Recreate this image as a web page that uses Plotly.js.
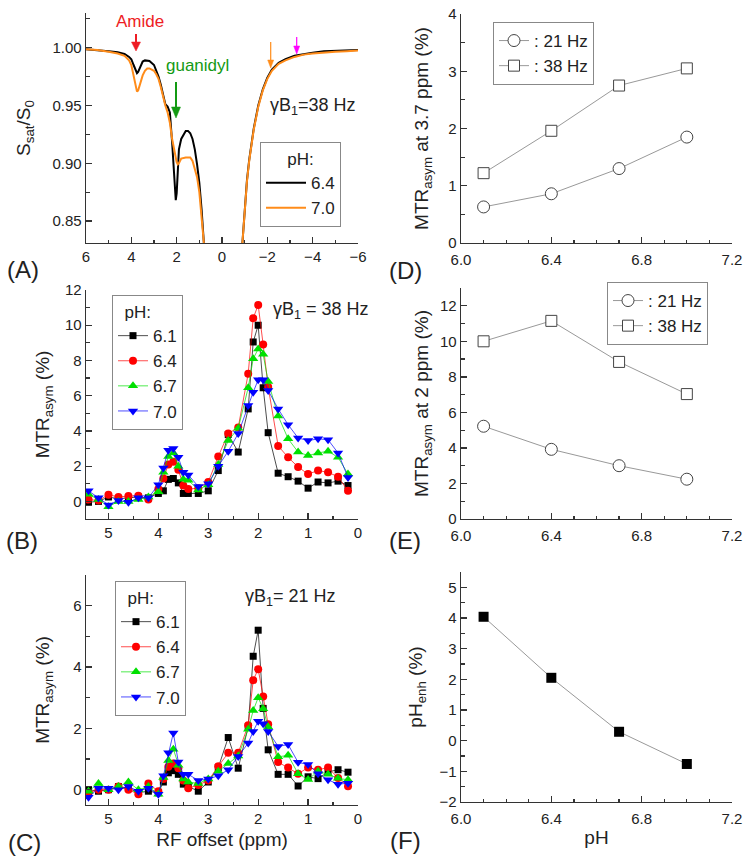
<!DOCTYPE html>
<html>
<head>
<meta charset="utf-8">
<script src="https://cdn.plot.ly/plotly-3.0.1.min.js"></script>
<style>html,body{margin:0;padding:0;background:#fff;}#chart{width:754px;height:864px;}</style>
</head>
<body>
<div id="chart"></div>
<script>
// ---------- Panel A: Z-spectra (S_sat/S_0) ----------
const offsetsA_64 = [6.0,5.5,5.0,4.6,4.3,4.1,4.0,3.9,3.8,3.75,3.7,3.6,3.5,3.4,3.2,3.0,2.9,2.8,2.7,2.6,2.5,2.4,2.3,2.2,2.1,2.04,2.0,1.95,1.9,1.8,1.7,1.6,1.5,1.4,1.3,1.2,1.1,1.0,0.9,0.8,null,
  -0.9,-1.0,-1.1,-1.2,-1.4,-1.6,-1.8,-2.0,-2.2,-2.5,-2.8,-3.2,-3.6,-4.0,-4.5,-5.0,-5.5,-6.0];
const ssat_64 = [0.9986,0.998,0.997,0.996,0.9945,0.992,0.990,0.985,0.980,0.978,0.979,0.984,0.988,0.989,0.9885,0.985,0.980,0.975,0.968,0.958,0.951,0.949,0.944,0.918,0.890,0.868,0.874,0.895,0.912,0.921,0.925,0.928,0.928,0.926,0.921,0.912,0.899,0.883,0.860,0.831,null,
  0.831,0.862,0.885,0.903,0.930,0.950,0.964,0.974,0.981,0.987,0.990,0.993,0.9945,0.9957,0.997,0.9975,0.998,0.998];
const offsetsA_70 = [6.0,5.5,5.0,4.6,4.3,4.1,4.0,3.9,3.8,3.75,3.7,3.6,3.5,3.4,3.3,3.2,3.0,2.9,2.8,2.7,2.6,2.5,2.4,2.3,2.2,2.1,2.0,1.95,1.9,1.8,1.6,1.4,1.3,1.2,1.1,1.0,0.9,0.8,null,
  -0.9,-1.0,-1.1,-1.2,-1.4,-1.6,-1.8,-2.0,-2.2,-2.5,-2.8,-3.2,-3.6,-4.0,-4.5,-5.0,-5.5,-6.0];
const ssat_70 = [0.9986,0.998,0.9965,0.995,0.993,0.989,0.985,0.976,0.966,0.962,0.963,0.970,0.976,0.980,0.982,0.982,0.980,0.977,0.973,0.966,0.957,0.950,0.944,0.935,0.921,0.910,0.901,0.899,0.900,0.904,0.905,0.905,0.902,0.895,0.888,0.875,0.855,0.831,null,
  0.831,0.861,0.884,0.902,0.929,0.949,0.963,0.973,0.980,0.986,0.989,0.992,0.994,0.995,0.996,0.9965,0.997,0.9975];

// ---------- Panels B & C: MTRasym spectra ----------
const offsetsBC = [5.4,5.2,5.0,4.8,4.6,4.4,4.2,4.0,3.9,3.8,3.7,3.6,3.5,3.4,3.2,3.0,2.8,2.6,2.4,2.2,2.1,2.0,1.9,1.8,1.6,1.4,1.2,1.0,0.8,0.6,0.4,0.2];
const mtrB_61 = [-0.05,0.0,0.25,0.15,0.2,0.25,0.2,0.45,0.6,1.25,1.3,1.05,0.45,0.45,0.45,0.6,1.75,3.8,2.8,5.25,9.05,10.0,6.45,3.9,1.6,1.4,1.15,0.75,1.1,1.05,1.15,0.9];
const mtrB_64 = [0.1,0.05,0.38,0.25,0.3,0.32,0.1,0.7,1.3,2.1,2.25,1.8,0.9,0.7,0.75,1.1,2.55,3.85,4.2,7.25,10.4,11.15,8.9,6.5,3.15,2.5,1.95,1.55,1.75,1.65,1.4,0.6];
const mtrB_67 = [0.4,0.1,-0.3,0.0,0.0,0.1,0.25,0.55,1.65,2.55,2.75,2.0,1.25,1.2,0.65,0.95,2.1,3.45,4.15,6.45,8.1,8.65,8.35,6.8,4.85,3.55,2.8,2.6,2.75,2.85,2.5,1.55];
const mtrB_70 = [0.6,0.2,-0.2,0.05,-0.05,0.2,0.2,0.95,1.9,2.9,3.0,2.5,1.65,1.5,0.85,1.0,2.0,2.85,3.85,5.45,6.2,6.9,6.9,6.3,5.25,4.35,3.6,3.45,3.55,3.5,2.75,1.35];
const mtrC_61 = [0.0,-0.05,0.0,0.1,0.05,-0.1,-0.05,-0.1,0.25,0.55,0.62,0.5,0.18,0.1,-0.05,0.25,0.72,1.7,0.7,2.05,4.35,5.2,2.65,1.3,0.5,0.5,0.12,0.42,0.36,0.58,0.65,0.57];
const mtrC_64 = [-0.1,0.0,0.0,0.1,0.0,-0.15,0.2,-0.05,0.35,0.75,0.85,0.7,0.3,0.05,0.15,0.3,0.76,1.2,1.2,2.1,3.57,3.93,3.04,2.13,0.9,0.72,0.52,0.72,0.65,0.72,0.38,0.11];
const mtrC_67 = [-0.05,0.2,0.0,0.1,0.25,0.0,0.1,-0.15,0.4,0.95,1.32,0.8,0.35,0.25,0.2,0.35,0.6,0.85,1.1,1.97,2.58,3.0,2.64,2.04,1.07,1.12,0.52,0.33,0.6,0.5,0.37,0.32];
const mtrC_70 = [-0.25,0.05,0.05,0.0,0.1,-0.05,0.05,-0.15,0.45,1.2,1.85,0.9,0.5,0.5,0.3,0.35,0.45,0.65,1.08,1.52,1.9,2.23,2.15,1.9,1.41,1.47,0.89,0.82,0.52,0.32,0.18,0.21];

// ---------- Panels D, E, F: vs pH ----------
const pHvals = [6.1,6.4,6.7,7.0];
const mtr37_21 = [0.63,0.86,1.30,1.85];
const mtr37_38 = [1.22,1.96,2.75,3.05];
const mtr2_21 = [5.22,3.92,3.00,2.24];
const mtr2_38 = [10.0,11.15,8.84,7.03];
const pHenh = [4.04,2.05,0.29,-0.76];

const pHlabels = ['6.1','6.4','6.7','7.0'];

// ---------- layout helpers ----------
const W = 754, H = 864;
const FONT = 'Liberation Sans, Arial, Helvetica, sans-serif';
const fx = p => p / W;
const fy = p => 1 - p / H;
const AX = '#333';

function axis(extra) {
  const base = {
    showline: true, linecolor: AX, linewidth: 1.4, mirror: false,
    ticks: 'inside', ticklen: 6, tickwidth: 1.3, tickcolor: AX,
    showgrid: false, zeroline: false, fixedrange: true,
    tickfont: {family: FONT, size: 15, color: '#222'}
  };
  return Object.assign(base, extra);
}
function minor(d) { return {ticks: 'inside', ticklen: 3.5, tickwidth: 1.2, tickcolor: AX, dtick: d, showgrid: false}; }
function ytitle(t, s) { return {text: t, font: {family: FONT, size: 19, color: '#222'}, standoff: s}; }

const colsBC = ['#000000', '#ff0000', '#00e000', '#0000ff'];
const symsBC = ['square', 'circle', 'triangle-up', 'triangle-down'];
const sizesBC = [7, 8, 9, 9];

const traces = [];
// A
traces.push({x: offsetsA_64, y: ssat_64, xaxis: 'x', yaxis: 'y', mode: 'lines', name: '6.4',
  line: {color: '#000', width: 2}, legend: 'legend', connectgaps: false});
traces.push({x: offsetsA_70, y: ssat_70, xaxis: 'x', yaxis: 'y', mode: 'lines', name: '7.0',
  line: {color: '#ff8c1a', width: 2}, legend: 'legend', connectgaps: false});
// B
[mtrB_61, mtrB_64, mtrB_67, mtrB_70].forEach((arr, i) => {
  traces.push({x: offsetsBC, y: arr, xaxis: 'x2', yaxis: 'y2', mode: 'lines+markers', name: pHlabels[i],
    line: {color: colsBC[i], width: 0.7},
    marker: {symbol: symsBC[i], size: sizesBC[i], color: colsBC[i]}, legend: 'legend2'});
});
// C
[mtrC_61, mtrC_64, mtrC_67, mtrC_70].forEach((arr, i) => {
  traces.push({x: offsetsBC, y: arr, xaxis: 'x3', yaxis: 'y3', mode: 'lines+markers', name: pHlabels[i],
    line: {color: colsBC[i], width: 0.7},
    marker: {symbol: symsBC[i], size: sizesBC[i], color: colsBC[i]}, legend: 'legend3'});
});
// D
traces.push({x: pHvals, y: mtr37_21, xaxis: 'x4', yaxis: 'y4', mode: 'lines+markers', name: ': 21 Hz',
  line: {color: '#999', width: 1}, marker: {symbol: 'circle', size: 12, color: '#fff', line: {color: '#444', width: 1}}, legend: 'legend4'});
traces.push({x: pHvals, y: mtr37_38, xaxis: 'x4', yaxis: 'y4', mode: 'lines+markers', name: ': 38 Hz',
  line: {color: '#999', width: 1}, marker: {symbol: 'square', size: 11, color: '#fff', line: {color: '#444', width: 1}}, legend: 'legend4'});
// E
traces.push({x: pHvals, y: mtr2_21, xaxis: 'x5', yaxis: 'y5', mode: 'lines+markers', name: ': 21 Hz',
  line: {color: '#999', width: 1}, marker: {symbol: 'circle', size: 12, color: '#fff', line: {color: '#444', width: 1}}, legend: 'legend5'});
traces.push({x: pHvals, y: mtr2_38, xaxis: 'x5', yaxis: 'y5', mode: 'lines+markers', name: ': 38 Hz',
  line: {color: '#999', width: 1}, marker: {symbol: 'square', size: 11, color: '#fff', line: {color: '#444', width: 1}}, legend: 'legend5'});
// F
traces.push({x: pHvals, y: pHenh, xaxis: 'x6', yaxis: 'y6', mode: 'lines+markers', name: 'pHenh',
  line: {color: '#999', width: 1}, marker: {symbol: 'square', size: 10, color: '#000'}, showlegend: false});

const leftDom = [fx(86), fx(358)];
const rightDom = [fx(461), fx(732)];

function legendCfg(x, y, extra) {
  return Object.assign({
    x: fx(x), y: fy(y), xref: 'paper', yref: 'paper', xanchor: 'left', yanchor: 'top',
    bgcolor: 'rgba(255,255,255,0)', bordercolor: '#888', borderwidth: 1,
    font: {family: FONT, size: 17, color: '#222'}, tracegroupgap: 0, itemclick: false
  }, extra || {});
}

const annFont = (s, c) => ({family: FONT, size: s, color: c || '#222'});
function lab(t, x, y, s, c, anchor) {
  return {text: t, x: fx(x), y: fy(y), xref: 'paper', yref: 'paper', xanchor: anchor || 'center', yanchor: 'middle',
    showarrow: false, font: annFont(s, c)};
}
const annotations = [
  lab('(A)', 23, 269, 24), lab('(B)', 22, 540, 24), lab('(C)', 24, 842, 24),
  lab('(D)', 405, 270, 24), lab('(E)', 405, 540, 24), lab('(F)', 405, 840, 24),
  lab('Amide', 140, 21, 17, '#ee1c24'),
  lab('guanidyl', 198, 65, 17, '#139a13'),
  lab('γB<sub>1</sub>=38 Hz', 358, 106, 18, '#222', 'right'),
  lab('γB<sub>1</sub> = 38 Hz', 371, 310, 18, '#222', 'right'),
  lab('γB<sub>1</sub>= 21 Hz', 243, 597, 18, '#222', 'left')
];

// arrows in panel A drawn as shapes (shaft + head), positions in page pixels
function arrowShapes(x, y0, y1, color, w, hw, hl) {
  return [
    {type: 'line', xref: 'paper', yref: 'paper', x0: fx(x), x1: fx(x), y0: fy(y0), y1: fy(y1 - hl + 1), line: {color: color, width: w}},
    {type: 'path', xref: 'paper', yref: 'paper', fillcolor: color, line: {color: color, width: 0.5},
      path: 'M' + fx(x - hw) + ',' + fy(y1 - hl) + ' L' + fx(x + hw) + ',' + fy(y1 - hl) + ' L' + fx(x) + ',' + fy(y1) + ' Z'}
  ];
}
const shapes = [].concat(
  arrowShapes(136, 34, 51, '#ee1c24', 2, 4.5, 9),
  arrowShapes(176, 82, 118, '#139a13', 2, 4.5, 11),
  arrowShapes(270.7, 42, 68, '#ff8c1a', 1.2, 3, 8),
  arrowShapes(296.7, 37, 54, '#ff00ff', 1.2, 3, 8)
);

const layout = {
  width: W, height: H, margin: {l: 0, r: 0, t: 0, b: 0},
  paper_bgcolor: '#fff', plot_bgcolor: '#fff',
  font: {family: FONT, color: '#222'},
  showlegend: true,
  xaxis: axis({domain: leftDom, anchor: 'y', range: [6, -6], dtick: 2, tick0: 0, minor: minor(1)}),
  yaxis: axis({domain: [fy(243), fy(13)], anchor: 'x', range: [0.831, 1.03], dtick: 0.05, tick0: 0.85, tickformat: '.2f', minor: minor(0.025),
    title: ytitle('S<sub>sat</sub>/S<sub>0</sub>', 16)}),
  xaxis2: axis({domain: leftDom, anchor: 'y2', range: [5.45, 0], dtick: 1, tick0: 0, minor: minor(0.5)}),
  yaxis2: axis({domain: [fy(519), fy(290)], anchor: 'x2', range: [-1, 12], dtick: 2, tick0: 0, minor: minor(1),
    title: ytitle('MTR<sub>asym</sub> (%)', 10)}),
  xaxis3: axis({domain: leftDom, anchor: 'y3', range: [5.45, 0], dtick: 1, tick0: 0, minor: minor(0.5),
    title: {text: 'RF offset (ppm)', font: {family: FONT, size: 19, color: '#222'}, standoff: 6}}),
  yaxis3: axis({domain: [fy(805), fy(575)], anchor: 'x3', range: [-0.5, 7], dtick: 2, tick0: 0, minor: minor(1),
    title: ytitle('MTR<sub>asym</sub> (%)', 18)}),
  xaxis4: axis({domain: rightDom, anchor: 'y4', range: [6.0, 7.2], dtick: 0.4, tick0: 6.0, tickformat: '.1f', minor: minor(0.1), ticklabelstandoff: 3}),
  yaxis4: axis({domain: [fy(243), fy(14)], anchor: 'x4', range: [0, 4], dtick: 1, tick0: 0, minor: minor(0.5),
    title: ytitle('MTR<sub>asym</sub> at 3.7 ppm (%)', 14)}),
  xaxis5: axis({domain: rightDom, anchor: 'y5', range: [6.0, 7.2], dtick: 0.4, tick0: 6.0, tickformat: '.1f', minor: minor(0.1), ticklabelstandoff: 3}),
  yaxis5: axis({domain: [fy(519), fy(288)], anchor: 'x5', range: [0, 13], dtick: 2, tick0: 0, minor: minor(1),
    title: ytitle('MTR<sub>asym</sub> at 2 ppm (%)', 6)}),
  xaxis6: axis({domain: rightDom, anchor: 'y6', range: [6.0, 7.2], dtick: 0.4, tick0: 6.0, tickformat: '.1f', minor: minor(0.1), ticklabelstandoff: 3,
    title: {text: 'pH', font: {family: FONT, size: 19, color: '#222'}, standoff: 4}}),
  yaxis6: axis({domain: [fy(802), fy(572)], anchor: 'x6', range: [-2, 5.5], dtick: 1, tick0: 0, minor: minor(0.5),
    title: ytitle('pH<sub>enh</sub> (%)', 12)}),
  legend: legendCfg(260, 142, {title: {text: 'pH:', side: 'top center', font: {family: FONT, size: 17}}, itemwidth: 40}),
  legend2: legendCfg(112, 295, {title: {text: '  pH:', font: {family: FONT, size: 17}}}),
  legend3: legendCfg(115, 581, {title: {text: '  pH:', font: {family: FONT, size: 17}}}),
  legend4: legendCfg(493, 22),
  legend5: legendCfg(607, 282),
  annotations: annotations,
  shapes: shapes
};

Plotly.newPlot('chart', traces, layout, {displayModeBar: false, staticPlot: true});
</script>
</body>
</html>
